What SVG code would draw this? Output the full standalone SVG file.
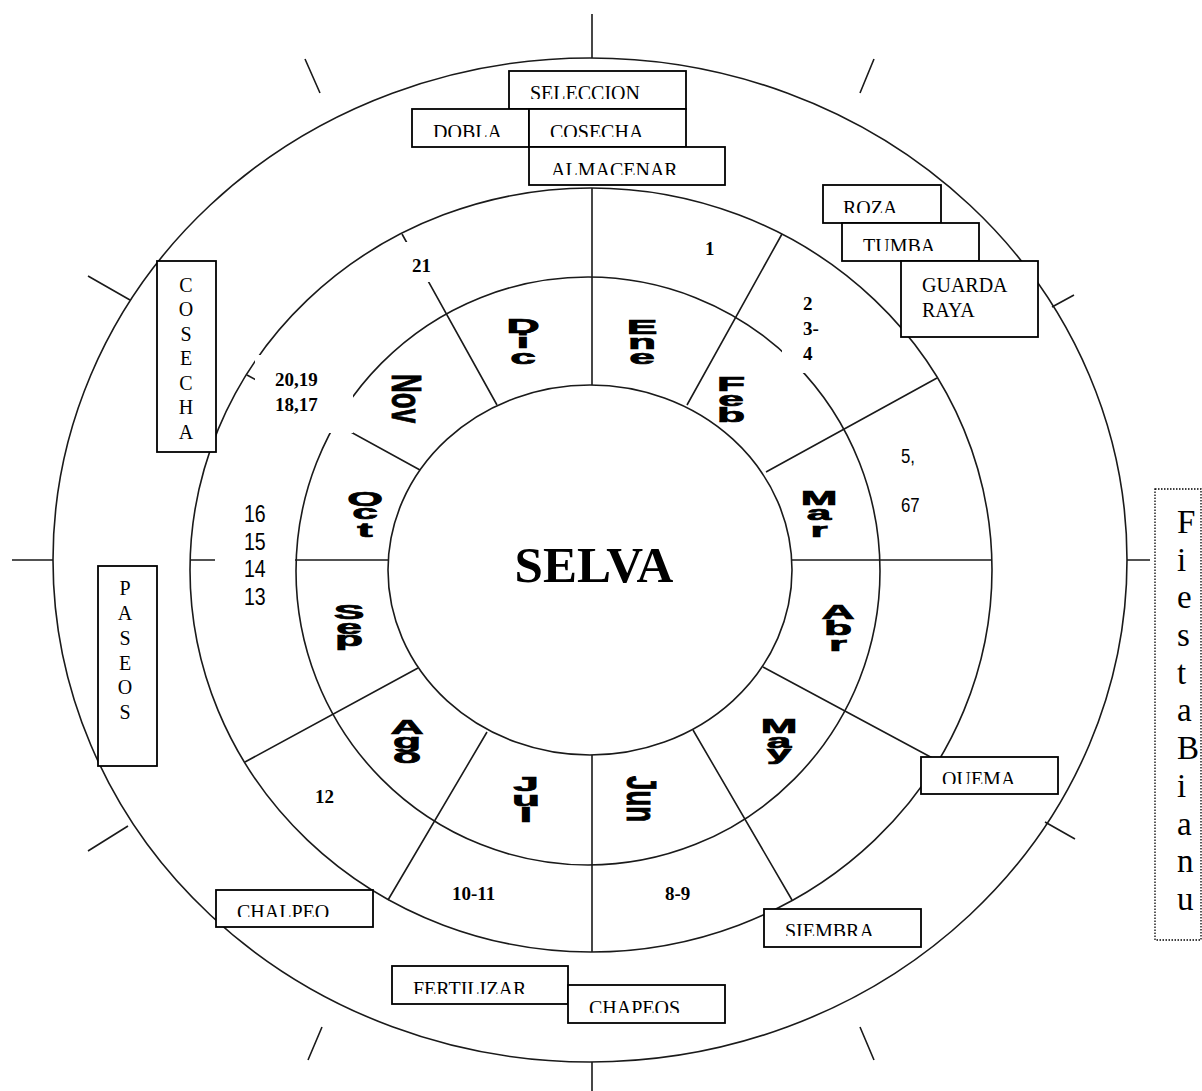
<svg xmlns="http://www.w3.org/2000/svg" width="1202" height="1091" viewBox="0 0 1202 1091">
<style>
.ln{fill:none;stroke:#1a1a1a;stroke-width:1.6}
.box{fill:#fff;stroke:#000;stroke-width:1.8}
.bt{font-family:"Liberation Serif","Times New Roman",serif;font-size:20px;fill:#000}
.vt{font-family:"Liberation Serif","Times New Roman",serif;font-size:20px;fill:#000;text-anchor:middle}
.num{font-family:"Liberation Serif","Times New Roman",serif;font-size:19px;font-weight:bold;fill:#000}
.sn{font-family:"Liberation Sans",Arial,sans-serif;font-size:23px;fill:#000}
.mo{font-family:"Liberation Sans",Arial,sans-serif;font-size:20px;font-weight:bold;fill:#000;stroke:#000;stroke-width:0.7;text-anchor:middle}
.mr{font-family:"Liberation Sans",Arial,sans-serif;font-size:26px;font-weight:bold;fill:#000;stroke:#000;stroke-width:0.6}
.wh{fill:#fff;stroke:none}
</style>
<defs>
<clipPath id="cSel"><rect x="509" y="71" width="177" height="28"/></clipPath>
<clipPath id="cDob"><rect x="412" y="109" width="117" height="28"/></clipPath>
<clipPath id="cCos"><rect x="529" y="109" width="157" height="28"/></clipPath>
<clipPath id="cAlm"><rect x="529" y="147" width="196" height="28"/></clipPath>
<clipPath id="cRoz"><rect x="823" y="185" width="118" height="28"/></clipPath>
<clipPath id="cTum"><rect x="842" y="223" width="137" height="28"/></clipPath>
<clipPath id="cQue"><rect x="921" y="757" width="137" height="27"/></clipPath>
<clipPath id="cSie"><rect x="764" y="909" width="157" height="27"/></clipPath>
<clipPath id="cCha"><rect x="216" y="890" width="157" height="27"/></clipPath>
<clipPath id="cFer"><rect x="392" y="966" width="176" height="28"/></clipPath>
<clipPath id="cChp"><rect x="568" y="985" width="157" height="28"/></clipPath>
</defs>
<rect width="1202" height="1091" fill="#fff"/>
<g id="connectors">
<ellipse class="ln" cx="590" cy="560" rx="537" ry="502"/>
<ellipse class="ln" cx="591" cy="570" rx="401" ry="382"/>
<ellipse class="ln" cx="588" cy="571" rx="292" ry="294"/>
<ellipse class="ln" cx="590" cy="570" rx="202" ry="185"/>
<path class="ln" d="M592 14V58M592 188V385M592 755V952M592 1062V1091M12 560H53M190 560H215M295 560H388M792 560H992M1127 560H1150"/>
<path class="ln" d="M497 405L402 234M420 470L247 375M418 668L245 762M487 732L388 900M693 730L792 900M763 667L938 761M766 472L937 378M687 405L782 234"/>
<path class="ln" d="M130 300L88 276M320 93L305 59M860 93L874 59M1052 307L1074 295M1045 822L1075 839M860 1027L874 1060M322 1027L308 1060M128 826L88 851"/>
</g>
<rect class="wh" x="255" y="355" width="98" height="78"/>
<rect class="wh" x="396" y="242" width="60" height="40"/>
<rect class="wh" x="215" y="488" width="80" height="134"/>
<rect class="wh" x="782" y="285" width="30" height="88"/>
<g id="center"><text x="594" y="582" style="font-family:'Liberation Serif','Times New Roman',serif;font-size:51px;font-weight:bold;text-anchor:middle">SELVA</text></g>
<g id="months">
<g id="m-dic" transform="translate(523 0) scale(2.3 1)"><text class="mo" y="333">D</text><text class="mo" y="348">i</text><text class="mo" y="364">c</text></g>
<g id="m-ene" transform="translate(642 0) scale(2.3 1)"><text class="mo" y="334">E</text><text class="mo" y="349">n</text><text class="mo" y="364">e</text></g>
<g id="m-feb" transform="translate(731 0) scale(2.3 1)"><text class="mo" y="391">F</text><text class="mo" y="406">e</text><text class="mo" y="422">b</text></g>
<g id="m-mar" transform="translate(819 0) scale(2.2 1)"><text class="mo" y="505">M</text><text class="mo" y="520">a</text><text class="mo" y="537">r</text></g>
<g id="m-abr" transform="translate(838 0) scale(2.3 1)"><text class="mo" y="619">A</text><text class="mo" y="635">b</text><text class="mo" y="651">r</text></g>
<g id="m-may" transform="translate(779 0) scale(2.2 1)"><text class="mo" y="733">M</text><text class="mo" y="748">a</text><text class="mo" y="760">y</text></g>
<g id="m-jul" transform="translate(526 0) scale(2.3 1)"><text class="mo" y="791">J</text><text class="mo" y="806">u</text><text class="mo" y="822">l</text></g>
<g id="m-ago" transform="translate(407 0) scale(2.3 1)"><text class="mo" y="734">A</text><text class="mo" y="748">g</text><text class="mo" y="763">o</text></g>
<g id="m-sep" transform="translate(349 0) scale(2.3 1)"><text class="mo" y="619">S</text><text class="mo" y="634">e</text><text class="mo" y="646">p</text></g>
<g id="m-oct" transform="translate(365 0) scale(2.3 1)"><text class="mo" y="506">O</text><text class="mo" y="519">c</text><text class="mo" y="537">t</text></g>
<g id="m-nov" transform="translate(392 374) rotate(90) scale(1 1.6)"><text class="mr" x="0" y="0">Nov</text></g>
<g id="m-jun" transform="translate(627 776) rotate(90) scale(1 1.6)"><text class="mr" x="0" y="0">Jun</text></g>
</g>
<g id="numbers">
<text class="num" x="705" y="255">1</text>
<text class="num" x="412" y="272">21</text>
<text class="num" x="803" y="310">2</text>
<text class="num" x="803" y="335">3-</text>
<text class="num" x="803" y="360">4</text>
<text class="num" x="275" y="386">20,19</text>
<text class="num" x="275" y="411">18,17</text>
<text class="num" x="315" y="803">12</text>
<text class="num" x="452" y="900">10-11</text>
<text class="num" x="665" y="900">8-9</text>
<g transform="translate(244 0) scale(0.85 1)"><text class="sn" y="522">16</text><text class="sn" y="550">15</text><text class="sn" y="577">14</text><text class="sn" y="605">13</text></g>
<g transform="translate(901 0) scale(0.8 1)"><text class="sn" y="463" style="font-size:21px">5,</text><text class="sn" y="512" style="font-size:21px">67</text></g>
</g>
<g id="n-seleccion"><rect class="box" x="509" y="71" width="177" height="38"/><text class="bt" x="530" y="100" clip-path="url(#cSel)">SELECCION</text></g>
<g id="n-dobla"><rect class="box" x="412" y="109" width="117" height="38"/><text class="bt" x="433" y="139" clip-path="url(#cDob)">DOBLA</text></g>
<g id="n-cosecha"><rect class="box" x="529" y="109" width="157" height="38"/><text class="bt" x="550" y="139" clip-path="url(#cCos)">COSECHA</text></g>
<g id="n-almacenar"><rect class="box" x="529" y="147" width="196" height="38"/><text class="bt" x="551" y="177" clip-path="url(#cAlm)">ALMACENAR</text></g>
<g id="n-roza"><rect class="box" x="823" y="185" width="118" height="38"/><text class="bt" x="843" y="215" clip-path="url(#cRoz)">ROZA</text></g>
<g id="n-tumba"><rect class="box" x="842" y="223" width="137" height="38"/><text class="bt" x="863" y="253" clip-path="url(#cTum)">TUMBA</text></g>
<g id="n-guarda"><rect class="box" x="901" y="261" width="137" height="76"/><text class="bt" x="922" y="292">GUARDA</text><text class="bt" x="922" y="317">RAYA</text></g>
<g id="n-quema"><rect class="box" x="921" y="757" width="137" height="37"/><text class="bt" x="942" y="786" clip-path="url(#cQue)">QUEMA</text></g>
<g id="n-siembra"><rect class="box" x="764" y="909" width="157" height="38"/><text class="bt" x="785" y="938" clip-path="url(#cSie)">SIEMBRA</text></g>
<g id="n-chalpeo"><rect class="box" x="216" y="890" width="157" height="37"/><text class="bt" x="237" y="919" clip-path="url(#cCha)">CHALPEO</text></g>
<g id="n-fertilizar"><rect class="box" x="392" y="966" width="176" height="38"/><text class="bt" x="413" y="996" clip-path="url(#cFer)">FERTILIZAR</text></g>
<g id="n-chapeos"><rect class="box" x="568" y="985" width="157" height="38"/><text class="bt" x="589" y="1015" clip-path="url(#cChp)">CHAPEOS</text></g>
<g id="n-cosecha-v"><rect class="box" x="157" y="261" width="59" height="191"/>
<text class="vt" x="186" y="292">C</text><text class="vt" x="186" y="316">O</text><text class="vt" x="186" y="341">S</text><text class="vt" x="186" y="365">E</text><text class="vt" x="186" y="390">C</text><text class="vt" x="186" y="414">H</text><text class="vt" x="186" y="439">A</text></g>
<g id="n-paseos"><rect class="box" x="98" y="566" width="59" height="200"/>
<text class="vt" x="125" y="595">P</text><text class="vt" x="125" y="620">A</text><text class="vt" x="125" y="645">S</text><text class="vt" x="125" y="670">E</text><text class="vt" x="125" y="694">O</text><text class="vt" x="125" y="719">S</text></g>
<g id="n-fiesta"><rect x="1155" y="489" width="46" height="451" fill="#fff" stroke="#000" stroke-width="1.3" stroke-dasharray="1.5 1.5"/>
<g style="font-family:'Liberation Serif','Times New Roman',serif;font-size:33px">
<text x="1177" y="533">F</text><text x="1177" y="571">i</text><text x="1177" y="608">e</text><text x="1177" y="646">s</text><text x="1177" y="684">t</text><text x="1177" y="721">a</text><text x="1177" y="759">B</text><text x="1177" y="797">i</text><text x="1177" y="835">a</text><text x="1177" y="872">n</text><text x="1177" y="910">u</text></g></g>
</svg>
